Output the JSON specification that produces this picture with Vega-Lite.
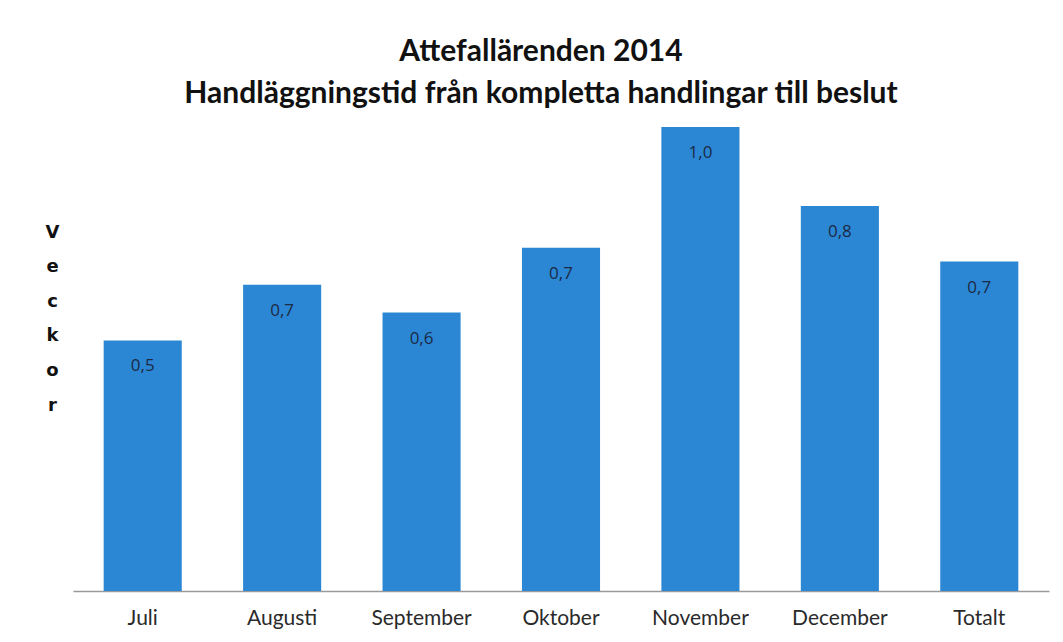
{
  "$schema": "https://vega.github.io/schema/vega-lite/v6.json",
  "autosize": {"type": "none"},
  "width": 976,
  "height": 464,
  "padding": {"left": 73, "top": 127, "right": 14, "bottom": 51},
  "background": "white",
  "config": {
    "view": {"stroke": null},
    "locale": {"number": {"decimal": ",", "thousands": " ", "grouping": [3], "currency": ["", " kr"]}}
  },
  "title": {
    "text": ["Attefallärenden 2014", "Handläggningstid från kompletta handlingar till beslut"],
    "font": "Lato",
    "fontSize": 30,
    "fontWeight": "bold",
    "color": "#111111",
    "lineHeight": 42,
    "anchor": "middle",
    "dx": -20,
    "offset": 18
  },
  "data": {
    "values": [
      {"month": "Juli", "weeks": 0.54},
      {"month": "Augusti", "weeks": 0.66},
      {"month": "September", "weeks": 0.6},
      {"month": "Oktober", "weeks": 0.74},
      {"month": "November", "weeks": 1.0},
      {"month": "December", "weeks": 0.83},
      {"month": "Totalt", "weeks": 0.71}
    ]
  },
  "encoding": {
    "x": {
      "field": "month",
      "type": "nominal",
      "sort": null,
      "scale": {"paddingInner": 0.44, "paddingOuter": 0.22},
      "axis": {
        "title": null,
        "labelAngle": 0,
        "ticks": false,
        "labelPadding": 16,
        "labelFont": "Lato",
        "labelFontSize": 21,
        "labelColor": "#2a2a2a",
        "domainColor": "#9a9a9a",
        "domainWidth": 1.5
      }
    },
    "y": {
      "field": "weeks",
      "type": "quantitative",
      "scale": {"domain": [0, 1], "nice": false},
      "axis": {
        "title": ["V", "e", "c", "k", "o", "r"],
        "titleAngle": 0,
        "titleFont": "DejaVu Sans",
        "titleFontSize": 18,
        "titleFontWeight": "bold",
        "titleColor": "#111111",
        "titleLineHeight": 34.6,
        "titleAlign": "center",
        "titleBaseline": "middle",
        "titleX": -21,
        "titleY": 105,
        "labels": false,
        "ticks": false,
        "domain": false,
        "grid": false
      }
    }
  },
  "layer": [
    {"mark": {"type": "bar", "color": "#2b87d4"}},
    {
      "mark": {"type": "text", "baseline": "middle", "dy": 26, "font": "Open Sans", "fontSize": 17, "color": "#1c2a44"},
      "encoding": {"text": {"field": "weeks", "type": "quantitative", "format": ".1f"}}
    }
  ]
}
